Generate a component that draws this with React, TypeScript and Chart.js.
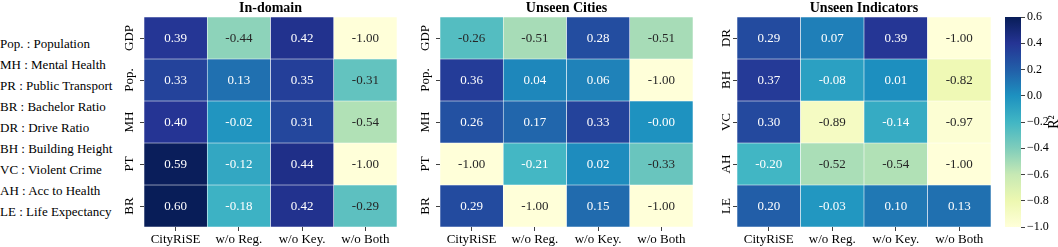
import React, { useEffect, useRef } from 'react';
import { Chart, registerables } from 'chart.js';

Chart.register(...registerables);

// ---------------- data ----------------
const methods = ['CityRiSE', 'w/o Reg.', 'w/o Key.', 'w/o Both'];

const inDomainRows = ['GDP', 'Pop.', 'MH', 'PT', 'BR'];
const unseenCitiesRows = ['GDP', 'Pop.', 'MH', 'PT', 'BR'];
const unseenIndicatorRows = ['DR', 'BH', 'VC', 'AH', 'LE'];

// values[row][method]
const inDomainValues = [
  [0.39, -0.44, 0.42, -1.0],
  [0.33, 0.13, 0.35, -0.31],
  [0.4, -0.02, 0.31, -0.54],
  [0.59, -0.12, 0.44, -1.0],
  [0.6, -0.18, 0.42, -0.29],
];
const unseenCitiesValues = [
  [-0.26, -0.51, 0.28, -0.51],
  [0.36, 0.04, 0.06, -1.0],
  [0.26, 0.17, 0.33, -0.004],
  [-1.0, -0.21, 0.02, -0.33],
  [0.29, -1.0, 0.15, -1.0],
];
const unseenIndicatorValues = [
  [0.29, 0.07, 0.39, -1.0],
  [0.37, -0.08, 0.01, -0.82],
  [0.3, -0.89, -0.14, -0.97],
  [-0.2, -0.52, -0.54, -1.0],
  [0.2, -0.03, 0.1, 0.13],
];

const panelTitles = ['In-domain', 'Unseen Cities', 'Unseen Indicators'];
const colorbarTicks = [-1.0, -0.8, -0.6, -0.4, -0.2, 0.0, 0.2, 0.4, 0.6];
const colorbarLabel = 'R\u00B2';
const legendLines = [
  'Pop. : Population',
  'MH : Mental Health',
  'PR : Public Transport',
  'BR : Bachelor Ratio',
  'DR : Drive Ratio',
  'BH : Building Height',
  'VC : Violent Crime',
  'AH : Acc to Health',
  'LE : Life Expectancy',
];

const vmin = -1.0;
const vmax = 0.6;

// ---------------- style ----------------
const FONT = "'Liberation Serif', 'DejaVu Serif', serif";
const YLGNBU = [
  '#ffffd9', '#edf8b1', '#c7e9b4', '#7fcdbb', '#41b6c4',
  '#1d91c0', '#225ea8', '#253494', '#081d58',
];

function hexToRgb(h: string): number[] {
  return [parseInt(h.slice(1, 3), 16), parseInt(h.slice(3, 5), 16), parseInt(h.slice(5, 7), 16)];
}
const STOPS = YLGNBU.map(hexToRgb);

function cmapRgb(v: number): number[] {
  let t = (v - vmin) / (vmax - vmin);
  t = Math.max(0, Math.min(1, t));
  const pos = t * (STOPS.length - 1);
  const i = Math.min(Math.floor(pos), STOPS.length - 2);
  const f = pos - i;
  const a = STOPS[i];
  const b = STOPS[i + 1];
  return [0, 1, 2].map((k) => a[k] + (b[k] - a[k]) * f);
}
function cmap(v: number): string {
  const c = cmapRgb(v);
  return `rgb(${c[0].toFixed(1)},${c[1].toFixed(1)},${c[2].toFixed(1)})`;
}
function luminance(rgb: number[]): number {
  const lin = rgb.map((c) => {
    const x = c / 255;
    return x <= 0.03928 ? x / 12.92 : Math.pow((x + 0.055) / 1.055, 2.4);
  });
  return 0.2126 * lin[0] + 0.7152 * lin[1] + 0.0722 * lin[2];
}
function textColor(v: number): string {
  return luminance(cmapRgb(v)) > 0.408 ? '#262626' : '#ffffff';
}

const cellLabelPlugin = {
  id: 'cellLabels',
  afterDatasetsDraw(chart: any, _args: any, opts: any) {
    const values: number[][] = opts.values;
    if (!values) return;
    const ctx = chart.ctx;
    ctx.save();
    ctx.font = `13px ${FONT}`;
    ctx.textAlign = 'center';
    ctx.textBaseline = 'middle';
    chart.data.datasets.forEach((_ds: any, r: number) => {
      const meta = chart.getDatasetMeta(r);
      meta.data.forEach((el: any, c: number) => {
        const p = el.getCenterPoint();
        const v = values[r][c];
        ctx.fillStyle = textColor(v);
        ctx.fillText(v.toFixed(2), p.x, p.y + 0.5);
      });
    });
    ctx.restore();
  },
};

const rotatedTitlePlugin = {
  id: 'rotatedTitle',
  afterDraw(chart: any, _args: any, opts: any) {
    if (!opts.text) return;
    const ctx = chart.ctx;
    const area = chart.chartArea;
    ctx.save();
    ctx.translate(opts.x, (area.top + area.bottom) / 2);
    ctx.rotate(-Math.PI / 2);
    ctx.font = `14px ${FONT}`;
    ctx.fillStyle = '#000';
    ctx.textAlign = 'center';
    ctx.textBaseline = 'middle';
    ctx.fillText(opts.text, 0, 0);
    ctx.restore();
  },
};

function heatmapConfig(title: string, rows: string[], values: number[][]): any {
  const datasets = rows.map((row, r) => ({
    label: row,
    data: methods.map(() => [r, r + 1]),
    backgroundColor: methods.map((_m, c) => cmap(values[r][c])),
    borderColor: 'rgba(255,255,255,0.55)',
    borderWidth: 0.6,
    borderSkipped: false,
    barPercentage: 1,
    categoryPercentage: 1,
    grouped: false,
  }));
  return {
    type: 'bar',
    data: { labels: methods, datasets },
    plugins: [cellLabelPlugin],
    options: {
      animation: false,
      responsive: false,
      maintainAspectRatio: false,
      devicePixelRatio: 1,
      layout: { padding: 0 },
      events: [],
      plugins: {
        legend: { display: false },
        tooltip: { enabled: false },
        title: {
          display: true,
          text: title,
          color: '#000',
          fullSize: false,
          font: { family: FONT, size: 14, weight: 'bold', lineHeight: 1.2 },
          padding: { top: 0, bottom: 0.2 },
        },
        cellLabels: { values },
      },
      scales: {
        x: {
          type: 'category',
          offset: true,
          border: { display: false },
          grid: {
            display: true,
            offset: false,
            drawOnChartArea: false,
            drawTicks: true,
            tickLength: 4,
            color: 'rgba(0,0,0,0.75)',
            lineWidth: 1,
          },
          ticks: {
            color: '#000',
            font: { family: FONT, size: 13 },
            padding: 1,
            maxRotation: 0,
            autoSkip: false,
          },
          afterFit: (s: any) => {
            s.height = 20;
          },
        },
        y: {
          type: 'linear',
          min: 0,
          max: rows.length,
          reverse: true,
          border: { display: false },
          grid: {
            display: true,
            drawOnChartArea: false,
            drawTicks: true,
            tickLength: 4,
            color: 'rgba(0,0,0,0.75)',
            lineWidth: 1,
          },
          afterBuildTicks: (s: any) => {
            s.ticks = rows.map((_r, i) => ({ value: i + 0.5 }));
          },
          ticks: {
            autoSkip: false,
            callback: (_v: any, i: number) => rows[i],
            minRotation: 90,
            maxRotation: 90,
            crossAlign: 'center',
            padding: -3,
            color: '#000',
            font: { family: FONT, size: 13 },
          },
          afterFit: (s: any) => {
            s.width = 40;
          },
        },
      },
    },
  };
}

function colorbarConfig(): any {
  return {
    type: 'bar',
    data: {
      labels: [colorbarLabel],
      datasets: [
        {
          data: [[vmin, vmax]],
          backgroundColor: (c: any) => {
            const chart = c.chart;
            const area = chart.chartArea;
            if (!area) return YLGNBU[0];
            const g = chart.ctx.createLinearGradient(0, area.bottom, 0, area.top);
            YLGNBU.forEach((col, i) => g.addColorStop(i / (YLGNBU.length - 1), col));
            return g;
          },
          borderWidth: 0,
          barPercentage: 1,
          categoryPercentage: 1,
        },
      ],
    },
    plugins: [rotatedTitlePlugin],
    options: {
      animation: false,
      responsive: false,
      maintainAspectRatio: false,
      devicePixelRatio: 1,
      events: [],
      layout: { padding: { top: 17, bottom: 20, left: 5, right: 0 } },
      plugins: {
        legend: { display: false },
        tooltip: { enabled: false },
        title: { display: false },
        rotatedTitle: { text: colorbarLabel, x: 54 },
      },
      scales: {
        x: { display: false },
        y: {
          type: 'linear',
          position: 'right',
          min: vmin,
          max: vmax,
          border: { display: false },
          grid: {
            display: true,
            drawOnChartArea: false,
            drawTicks: true,
            tickLength: 4,
            color: 'rgba(0,0,0,0.75)',
            lineWidth: 1,
          },
          afterBuildTicks: (s: any) => {
            s.ticks = colorbarTicks.map((v) => ({ value: v }));
          },
          ticks: {
            autoSkip: false,
            padding: 2,
            color: '#000',
            font: { family: FONT, size: 12 },
            callback: (v: any) => Number(v).toFixed(1).replace('-', '\u2212'),
          },
          afterFit: (s: any) => {
            s.width = 37;
          },
        },
      },
    },
  };
}

function ChartCanvas({ make, left, width, height }: { make: () => any; left: number; width: number; height: number }) {
  const ref = useRef<HTMLCanvasElement>(null);
  useEffect(() => {
    if (!ref.current) return;
    const chart = new Chart(ref.current, make());
    return () => chart.destroy();
  }, []);
  return (
    <canvas
      ref={ref}
      width={width}
      height={height}
      style={{ position: 'absolute', left, top: 0, width, height, display: 'block' }}
    />
  );
}

export default function App() {
  const H = 247;
  return (
    <div
      style={{
        position: 'absolute',
        left: 0,
        top: 0,
        width: 1058,
        height: H,
        background: '#fff',
        overflow: 'hidden',
      }}
    >
      <div
        style={{
          position: 'absolute',
          left: 0,
          top: 32.5,
          fontFamily: FONT,
          fontSize: 13,
          lineHeight: '21px',
          color: '#000',
          whiteSpace: 'pre',
        }}
      >
        {legendLines.map((l) => (
          <div key={l}>{l}</div>
        ))}
      </div>
      <ChartCanvas make={() => heatmapConfig(panelTitles[0], inDomainRows, inDomainValues)} left={104} width={293} height={H} />
      <ChartCanvas make={() => heatmapConfig(panelTitles[1], unseenCitiesRows, unseenCitiesValues)} left={400} width={293} height={H} />
      <ChartCanvas make={() => heatmapConfig(panelTitles[2], unseenIndicatorRows, unseenIndicatorValues)} left={697} width={294} height={H} />
      <ChartCanvas make={colorbarConfig} left={1000} width={58} height={H} />
    </div>
  );
}
